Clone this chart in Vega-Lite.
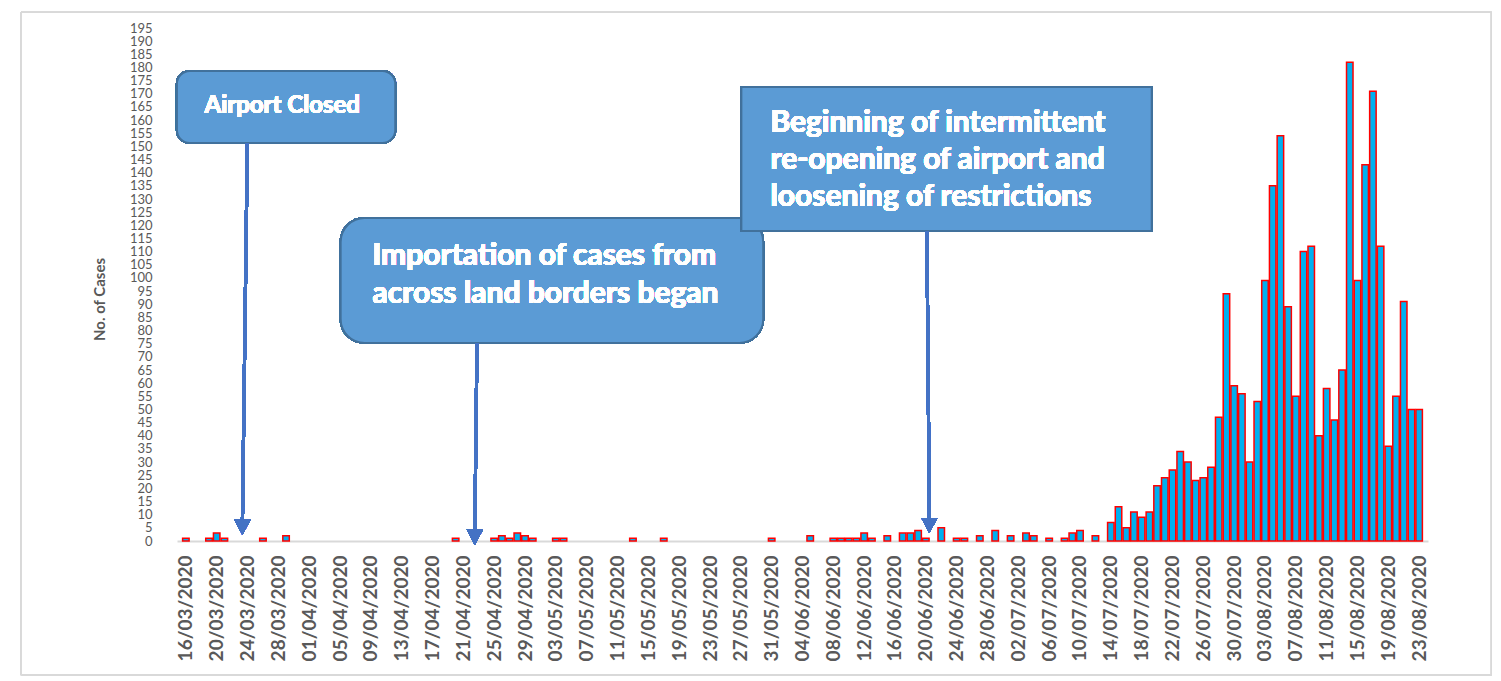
{
  "$schema": "https://vega.github.io/schema/vega-lite/v6.json",
  "autosize": {"type": "none"},
  "padding": {"left": 177, "top": 28, "right": 73, "bottom": 140},
  "width": 1251,
  "height": 513,
  "background": "#ffffff",
  "config": {
    "view": {"stroke": null},
    "axis": {"labelOverlap": false, "labelFlush": false}
  },
  "data": {"values": [
    {"date": "2020-03-16", "cases": 1},
    {"date": "2020-03-19", "cases": 1},
    {"date": "2020-03-20", "cases": 3},
    {"date": "2020-03-21", "cases": 1},
    {"date": "2020-03-26", "cases": 1},
    {"date": "2020-03-29", "cases": 2},
    {"date": "2020-04-20", "cases": 1},
    {"date": "2020-04-25", "cases": 1},
    {"date": "2020-04-26", "cases": 2},
    {"date": "2020-04-27", "cases": 1},
    {"date": "2020-04-28", "cases": 3},
    {"date": "2020-04-29", "cases": 2},
    {"date": "2020-04-30", "cases": 1},
    {"date": "2020-05-03", "cases": 1},
    {"date": "2020-05-04", "cases": 1},
    {"date": "2020-05-13", "cases": 1},
    {"date": "2020-05-17", "cases": 1},
    {"date": "2020-05-31", "cases": 1},
    {"date": "2020-06-05", "cases": 2},
    {"date": "2020-06-08", "cases": 1},
    {"date": "2020-06-09", "cases": 1},
    {"date": "2020-06-10", "cases": 1},
    {"date": "2020-06-11", "cases": 1},
    {"date": "2020-06-12", "cases": 3},
    {"date": "2020-06-13", "cases": 1},
    {"date": "2020-06-15", "cases": 2},
    {"date": "2020-06-17", "cases": 3},
    {"date": "2020-06-18", "cases": 3},
    {"date": "2020-06-19", "cases": 4},
    {"date": "2020-06-20", "cases": 1},
    {"date": "2020-06-22", "cases": 5},
    {"date": "2020-06-24", "cases": 1},
    {"date": "2020-06-25", "cases": 1},
    {"date": "2020-06-27", "cases": 2},
    {"date": "2020-06-29", "cases": 4},
    {"date": "2020-07-01", "cases": 2},
    {"date": "2020-07-03", "cases": 3},
    {"date": "2020-07-04", "cases": 2},
    {"date": "2020-07-06", "cases": 1},
    {"date": "2020-07-08", "cases": 1},
    {"date": "2020-07-09", "cases": 3},
    {"date": "2020-07-10", "cases": 4},
    {"date": "2020-07-12", "cases": 2},
    {"date": "2020-07-14", "cases": 7},
    {"date": "2020-07-15", "cases": 13},
    {"date": "2020-07-16", "cases": 5},
    {"date": "2020-07-17", "cases": 11},
    {"date": "2020-07-18", "cases": 9},
    {"date": "2020-07-19", "cases": 11},
    {"date": "2020-07-20", "cases": 21},
    {"date": "2020-07-21", "cases": 24},
    {"date": "2020-07-22", "cases": 27},
    {"date": "2020-07-23", "cases": 34},
    {"date": "2020-07-24", "cases": 30},
    {"date": "2020-07-25", "cases": 23},
    {"date": "2020-07-26", "cases": 24},
    {"date": "2020-07-27", "cases": 28},
    {"date": "2020-07-28", "cases": 47},
    {"date": "2020-07-29", "cases": 94},
    {"date": "2020-07-30", "cases": 59},
    {"date": "2020-07-31", "cases": 56},
    {"date": "2020-08-01", "cases": 30},
    {"date": "2020-08-02", "cases": 53},
    {"date": "2020-08-03", "cases": 99},
    {"date": "2020-08-04", "cases": 135},
    {"date": "2020-08-05", "cases": 154},
    {"date": "2020-08-06", "cases": 89},
    {"date": "2020-08-07", "cases": 55},
    {"date": "2020-08-08", "cases": 110},
    {"date": "2020-08-09", "cases": 112},
    {"date": "2020-08-10", "cases": 40},
    {"date": "2020-08-11", "cases": 58},
    {"date": "2020-08-12", "cases": 46},
    {"date": "2020-08-13", "cases": 65},
    {"date": "2020-08-14", "cases": 182},
    {"date": "2020-08-15", "cases": 99},
    {"date": "2020-08-16", "cases": 143},
    {"date": "2020-08-17", "cases": 171},
    {"date": "2020-08-18", "cases": 112},
    {"date": "2020-08-19", "cases": 36},
    {"date": "2020-08-20", "cases": 55},
    {"date": "2020-08-21", "cases": 91},
    {"date": "2020-08-22", "cases": 50},
    {"date": "2020-08-23", "cases": 50}
  ]},
  "layer": [
    {
      "mark": {"type": "bar", "width": 6.5, "fill": "#00B0F0", "stroke": "#FF0000", "strokeWidth": 1.5},
      "encoding": {
        "x": {
          "field": "date", "type": "temporal",
          "scale": {"type": "utc", "domain": [
            {"year": 2020, "month": 3, "date": 15, "hours": 12, "utc": true},
            {"year": 2020, "month": 8, "date": 23, "hours": 12, "utc": true}
          ]},
          "axis": {
            "title": null,
            "tickCount": 200,
            "values": [
              {"year": 2020, "month": 3, "date": 16, "utc": true},
              {"year": 2020, "month": 3, "date": 20, "utc": true},
              {"year": 2020, "month": 3, "date": 24, "utc": true},
              {"year": 2020, "month": 3, "date": 28, "utc": true},
              {"year": 2020, "month": 4, "date": 1, "utc": true},
              {"year": 2020, "month": 4, "date": 5, "utc": true},
              {"year": 2020, "month": 4, "date": 9, "utc": true},
              {"year": 2020, "month": 4, "date": 13, "utc": true},
              {"year": 2020, "month": 4, "date": 17, "utc": true},
              {"year": 2020, "month": 4, "date": 21, "utc": true},
              {"year": 2020, "month": 4, "date": 25, "utc": true},
              {"year": 2020, "month": 4, "date": 29, "utc": true},
              {"year": 2020, "month": 5, "date": 3, "utc": true},
              {"year": 2020, "month": 5, "date": 7, "utc": true},
              {"year": 2020, "month": 5, "date": 11, "utc": true},
              {"year": 2020, "month": 5, "date": 15, "utc": true},
              {"year": 2020, "month": 5, "date": 19, "utc": true},
              {"year": 2020, "month": 5, "date": 23, "utc": true},
              {"year": 2020, "month": 5, "date": 27, "utc": true},
              {"year": 2020, "month": 5, "date": 31, "utc": true},
              {"year": 2020, "month": 6, "date": 4, "utc": true},
              {"year": 2020, "month": 6, "date": 8, "utc": true},
              {"year": 2020, "month": 6, "date": 12, "utc": true},
              {"year": 2020, "month": 6, "date": 16, "utc": true},
              {"year": 2020, "month": 6, "date": 20, "utc": true},
              {"year": 2020, "month": 6, "date": 24, "utc": true},
              {"year": 2020, "month": 6, "date": 28, "utc": true},
              {"year": 2020, "month": 7, "date": 2, "utc": true},
              {"year": 2020, "month": 7, "date": 6, "utc": true},
              {"year": 2020, "month": 7, "date": 10, "utc": true},
              {"year": 2020, "month": 7, "date": 14, "utc": true},
              {"year": 2020, "month": 7, "date": 18, "utc": true},
              {"year": 2020, "month": 7, "date": 22, "utc": true},
              {"year": 2020, "month": 7, "date": 26, "utc": true},
              {"year": 2020, "month": 7, "date": 30, "utc": true},
              {"year": 2020, "month": 8, "date": 3, "utc": true},
              {"year": 2020, "month": 8, "date": 7, "utc": true},
              {"year": 2020, "month": 8, "date": 11, "utc": true},
              {"year": 2020, "month": 8, "date": 15, "utc": true},
              {"year": 2020, "month": 8, "date": 19, "utc": true},
              {"year": 2020, "month": 8, "date": 23, "utc": true}
            ],
            "labelExpr": "utcFormat(datum.value, '%d/%m/%Y')",
            "labelAngle": 270,
            "labelFont": "Lato",
            "labelFontWeight": "bold",
            "labelFontSize": 19,
            "labelColor": "#595959",
            "labelPadding": 14,
            "labelOverlap": false,
            "labelFlush": false,
            "labelBound": false,
            "ticks": false,
            "grid": false,
            "domainColor": "#D9D9D9",
            "domainWidth": 2
          }
        },
        "y": {
          "field": "cases", "type": "quantitative",
          "scale": {"domain": [0, 195], "nice": false},
          "axis": {
            "title": "No. of Cases",
            "tickCount": 200,
            "values": [0, 5, 10, 15, 20, 25, 30, 35, 40, 45, 50, 55, 60, 65, 70, 75, 80, 85, 90, 95, 100, 105, 110, 115, 120, 125, 130, 135, 140, 145, 150, 155, 160, 165, 170, 175, 180, 185, 190, 195],
            "labelFont": "Lato",
            "labelFontSize": 13,
            "labelColor": "#595959",
            "labelPadding": 25,
            "labelOverlap": false,
            "labelFlush": false,
            "ticks": false,
            "domain": false,
            "grid": false,
            "titleFont": "Lato",
            "titleFontWeight": "bold",
            "titleFontSize": 15,
            "titleColor": "#595959",
            "titleAngle": 270,
            "titleX": -78,
            "titleY": 271,
            "titleBaseline": "middle",
            "titleAlign": "center"
          }
        }
      }
    },
    {
      "mark": {"type": "rect", "fill": "transparent", "stroke": "#D9D9D9", "strokeWidth": 1},
      "encoding": {
        "x": {"datum": {"year": 2020, "month": 2, "date": 23, "hours": 15, "minutes": 20, "utc": true}, "type": "temporal"},
        "x2": {"datum": {"year": 2020, "month": 9, "date": 1, "hours": 9, "utc": true}},
        "y": {"datum": 201, "type": "quantitative"},
        "y2": {"datum": -51}
      }
    },
    {
      "mark": {"type": "rect", "fill": "#5B9BD5", "stroke": "#41719C", "strokeWidth": 2, "cornerRadius": 13},
      "encoding": {
        "x": {"datum": {"year": 2020, "month": 3, "date": 14, "hours": 20, "minutes": 13, "utc": true}, "type": "temporal"},
        "x2": {"datum": {"year": 2020, "month": 4, "date": 12, "hours": 4, "utc": true}},
        "y": {"datum": 178.7, "type": "quantitative"},
        "y2": {"datum": 151.3}
      }
    },
    {
      "mark": {"type": "rect", "fill": "#5B9BD5", "stroke": "#41719C", "strokeWidth": 2, "cornerRadius": 24},
      "encoding": {
        "x": {"datum": {"year": 2020, "month": 4, "date": 5, "hours": 2, "utc": true}, "type": "temporal"},
        "x2": {"datum": {"year": 2020, "month": 5, "date": 29, "hours": 21, "minutes": 40, "utc": true}},
        "y": {"datum": 122.8, "type": "quantitative"},
        "y2": {"datum": 75.3}
      }
    },
    {
      "mark": {"type": "rect", "fill": "#5B9BD5", "stroke": "#41719C", "strokeWidth": 2},
      "encoding": {
        "x": {"datum": {"year": 2020, "month": 5, "date": 27, "hours": 1, "minutes": 40, "utc": true}, "type": "temporal"},
        "x2": {"datum": {"year": 2020, "month": 7, "date": 19, "hours": 7, "minutes": 20, "utc": true}},
        "y": {"datum": 172.6, "type": "quantitative"},
        "y2": {"datum": 117.8}
      }
    },
    {
      "mark": {"type": "text", "text": "Airport Closed", "font": "Lato", "fontWeight": "bold", "fontSize": 24, "color": "#FFFFFF", "align": "center", "baseline": "alphabetic"},
      "encoding": {
        "x": {"datum": {"year": 2020, "month": 3, "date": 28, "hours": 12, "utc": true}, "type": "temporal"},
        "y": {"datum": 162.7, "type": "quantitative"}
      }
    },
    {
      "mark": {"type": "text", "text": ["Importation of cases from", "across land borders began"], "font": "Lato", "fontWeight": "bold", "fontSize": 30, "lineHeight": 38, "color": "#FFFFFF", "align": "left", "baseline": "alphabetic"},
      "encoding": {
        "x": {"datum": {"year": 2020, "month": 4, "date": 9, "hours": 5, "utc": true}, "type": "temporal"},
        "y": {"datum": 104.9, "type": "quantitative"}
      }
    },
    {
      "mark": {"type": "text", "text": ["Beginning of intermittent", "re-opening of airport and", "loosening of restrictions"], "font": "Lato", "fontWeight": "bold", "fontSize": 30, "lineHeight": 37, "color": "#FFFFFF", "align": "left", "baseline": "alphabetic"},
      "encoding": {
        "x": {"datum": {"year": 2020, "month": 5, "date": 30, "hours": 20, "utc": true}, "type": "temporal"},
        "y": {"datum": 155.6, "type": "quantitative"}
      }
    },
    {
      "mark": {"type": "rule", "color": "#4472C4", "strokeWidth": 3},
      "encoding": {
        "x": {"datum": {"year": 2020, "month": 3, "date": 23, "hours": 23, "minutes": 30, "utc": true}, "type": "temporal"},
        "x2": {"datum": {"year": 2020, "month": 3, "date": 23, "hours": 8, "minutes": 10, "utc": true}},
        "y": {"datum": 151.3, "type": "quantitative"},
        "y2": {"datum": 7.5}
      }
    },
    {
      "mark": {"type": "rule", "color": "#4472C4", "strokeWidth": 3},
      "encoding": {
        "x": {"datum": {"year": 2020, "month": 4, "date": 22, "hours": 18, "minutes": 30, "utc": true}, "type": "temporal"},
        "x2": {"datum": {"year": 2020, "month": 4, "date": 22, "hours": 11, "minutes": 45, "utc": true}},
        "y": {"datum": 75.3, "type": "quantitative"},
        "y2": {"datum": 4}
      }
    },
    {
      "mark": {"type": "rule", "color": "#4472C4", "strokeWidth": 3},
      "encoding": {
        "x": {"datum": {"year": 2020, "month": 6, "date": 20, "hours": 3, "minutes": 20, "utc": true}, "type": "temporal"},
        "x2": {"datum": {"year": 2020, "month": 6, "date": 20, "hours": 11, "utc": true}},
        "y": {"datum": 117.8, "type": "quantitative"},
        "y2": {"datum": 8.5}
      }
    },
    {
      "mark": {"type": "point", "shape": "M-1,-1.9L1,-1.9L0,0Z", "size": 256, "filled": true, "color": "#4472C4", "opacity": 1},
      "encoding": {
        "x": {"datum": {"year": 2020, "month": 3, "date": 23, "hours": 8, "minutes": 10, "utc": true}, "type": "temporal"},
        "y": {"datum": 2.3, "type": "quantitative"}
      }
    },
    {
      "mark": {"type": "point", "shape": "M-1,-1.9L1,-1.9L0,0Z", "size": 256, "filled": true, "color": "#4472C4", "opacity": 1},
      "encoding": {
        "x": {"datum": {"year": 2020, "month": 4, "date": 22, "hours": 11, "minutes": 45, "utc": true}, "type": "temporal"},
        "y": {"datum": -1.5, "type": "quantitative"}
      }
    },
    {
      "mark": {"type": "point", "shape": "M-1,-1.9L1,-1.9L0,0Z", "size": 256, "filled": true, "color": "#4472C4", "opacity": 1},
      "encoding": {
        "x": {"datum": {"year": 2020, "month": 6, "date": 20, "hours": 11, "utc": true}, "type": "temporal"},
        "y": {"datum": 3.0, "type": "quantitative"}
      }
    }
  ]
}
